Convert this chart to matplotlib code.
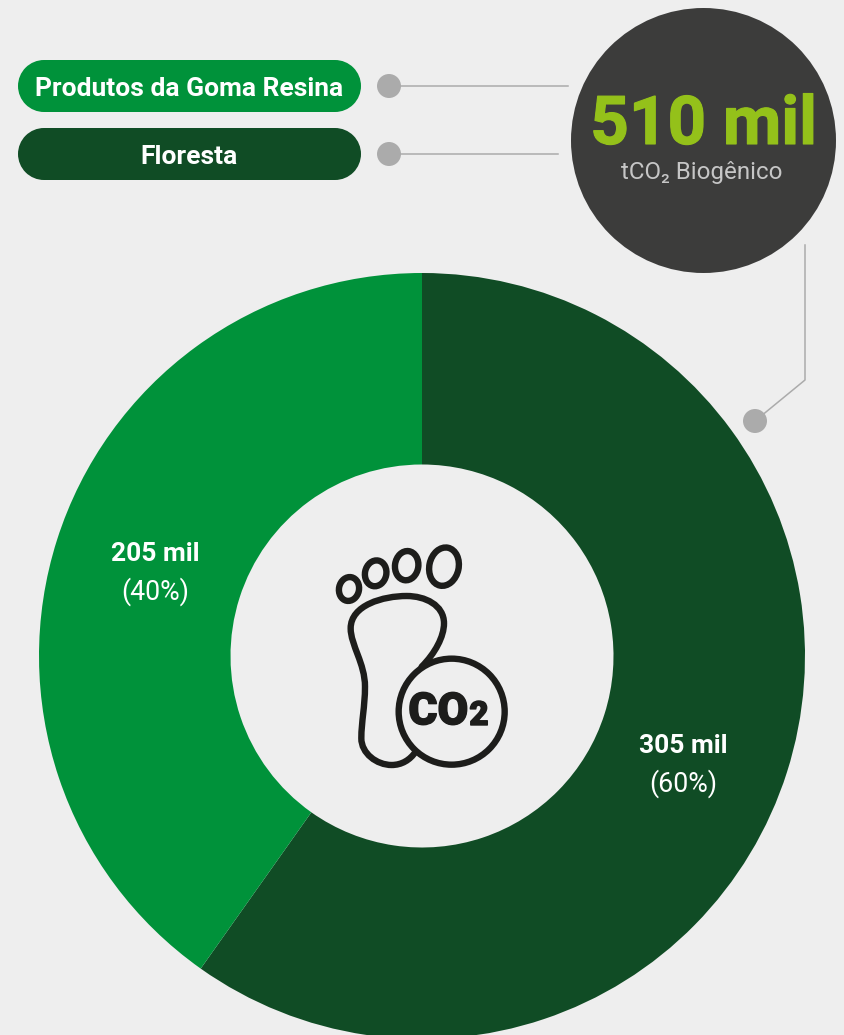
import matplotlib
matplotlib.use("Agg")
import matplotlib.pyplot as plt
import matplotlib.patheffects as pe
from matplotlib.patches import Circle, Ellipse, PathPatch, Rectangle
from matplotlib.path import Path

plt.rcParams['font.family'] = ['Roboto', 'Noto Sans', 'DejaVu Sans']

W, H = 844, 1035
BG = '#EEEEEE'
GREEN = '#00923A'
DARK_GREEN = '#104C25'
CHARCOAL = '#3C3C3B'
LIME = '#94C11A'
GREY = '#ABABAB'
INK = '#1D1D1B'

categories = ['Floresta', 'Produtos da Goma Resina']
values = [305, 205]
value_labels = ['305 mil', '205 mil']
share_labels = ['(60%)', '(40%)']
total_label = '510 mil'
total_unit = 'tCO₂ Biogênico'
legend_order = ['Produtos da Goma Resina', 'Floresta']


def Y(py):
    """Convert a top-down pixel row into the axes' bottom-up y."""
    return H - py


fig = plt.figure(figsize=(W / 100, H / 100), dpi=100, facecolor=BG)
ax = fig.add_axes([0, 0, 1, 1])

# Donut, running clockwise from twelve o'clock
ax.pie(values, colors=[DARK_GREEN, GREEN], startangle=90, counterclock=False,
       center=(422, Y(656)), radius=383, frame=True,
       wedgeprops=dict(width=191.5, linewidth=0))
ax.set_xlim(0, W)
ax.set_ylim(0, H)
ax.set_aspect('equal')
ax.axis('off')

# Slice labels
for (x, y1, y2), val, share in zip([(683, 746, 784), (155, 554, 592)], value_labels, share_labels):
    ax.text(x, Y(y1), val, color='white', fontsize=19, fontweight='bold', ha='center', va='center')
    ax.text(x, Y(y2), share, color='white', fontsize=19.3, ha='center', va='center')

# Legend pills, built from a bar with two round ends
pill_colors = {'Produtos da Goma Resina': GREEN, 'Floresta': DARK_GREEN}
for name, cy, line_end in zip(legend_order, [86, 154], [568, 558]):
    color = pill_colors[name]
    ax.add_patch(Rectangle((44, Y(cy + 26)), 291, 52, facecolor=color, linewidth=0, zorder=2))
    for cx in (44, 335):
        ax.add_patch(Circle((cx, Y(cy)), 26, facecolor=color, linewidth=0, zorder=2))
    ax.text(189.5, Y(cy + 2.5), name, color='white', fontsize=19, fontweight='bold',
            ha='center', va='center', zorder=3)
    ax.plot([389, line_end], [Y(cy), Y(cy)], color=GREY, lw=1.1, zorder=2)
    ax.add_patch(Circle((389, Y(cy)), 12, facecolor=GREY, linewidth=0, zorder=3))

# Total badge and its leader into the ring
ax.add_patch(Circle((703.5, Y(140.5)), 132.5, facecolor=CHARCOAL, linewidth=0, zorder=2))
ax.text(703.5, Y(126), total_label, color=LIME, fontsize=48.5, fontweight='bold',
        ha='center', va='center', zorder=3,
        path_effects=[pe.withStroke(linewidth=0.8, foreground=LIME)])
ax.text(702, Y(173), total_unit, color='#C6C6C6', fontsize=17.4, ha='center', va='center', zorder=3)
ax.plot([805, 805, 755], [Y(245), Y(380), Y(421)], color=GREY, lw=1.1, zorder=2)
ax.add_patch(Circle((755, Y(421)), 12, facecolor=GREY, linewidth=0, zorder=3))


# Footprint icon, outlined in a 6 px stroke
def P(zx, zy):
    return 320 + zx / 3, Y(530 + zy / 3)


STROKE = 4.6
for zx, zy, zw, zh, ang in [(87, 177, 60, 72, -12), (167, 130, 64, 78, -12),
                            (260, 107, 70, 88, -8), (372, 110, 88, 116, -12)]:
    ax.add_patch(Ellipse(P(zx, zy), zw / 3, zh / 3, angle=ang, fill=False, edgecolor=INK,
                         lw=STROKE, zorder=4))

foot = [
    (305, 410), (345, 370), (372, 320), (372, 280),
    (372, 225), (315, 198), (260, 198),
    (190, 198), (92, 225), (92, 295),
    (92, 345), (135, 400), (135, 470),
    (135, 530), (124, 575), (124, 625),
    (124, 670), (170, 705), (215, 705),
    (245, 705), (270, 690), (287, 665),
]
codes = [Path.MOVETO] + [Path.CURVE4] * (len(foot) - 1)
ax.add_patch(PathPatch(Path([P(*p) for p in foot], codes), fill=False, edgecolor=INK,
                       lw=STROKE, capstyle='round', zorder=4))
ax.add_patch(Circle(P(395, 545), 53, facecolor='none', edgecolor=INK, lw=STROKE, zorder=4))
heavy = [pe.withStroke(linewidth=1.0, foreground=INK)]
ax.text(*P(355, 547), 'CO', color=INK, fontsize=32, fontweight='black', ha='center', va='center',
        zorder=5, path_effects=heavy)
ax.text(*P(477, 558), '2', color=INK, fontsize=24, fontweight='black', ha='center', va='center',
        zorder=5, path_effects=heavy)

fig.savefig('out.png', dpi=100, facecolor=BG)
